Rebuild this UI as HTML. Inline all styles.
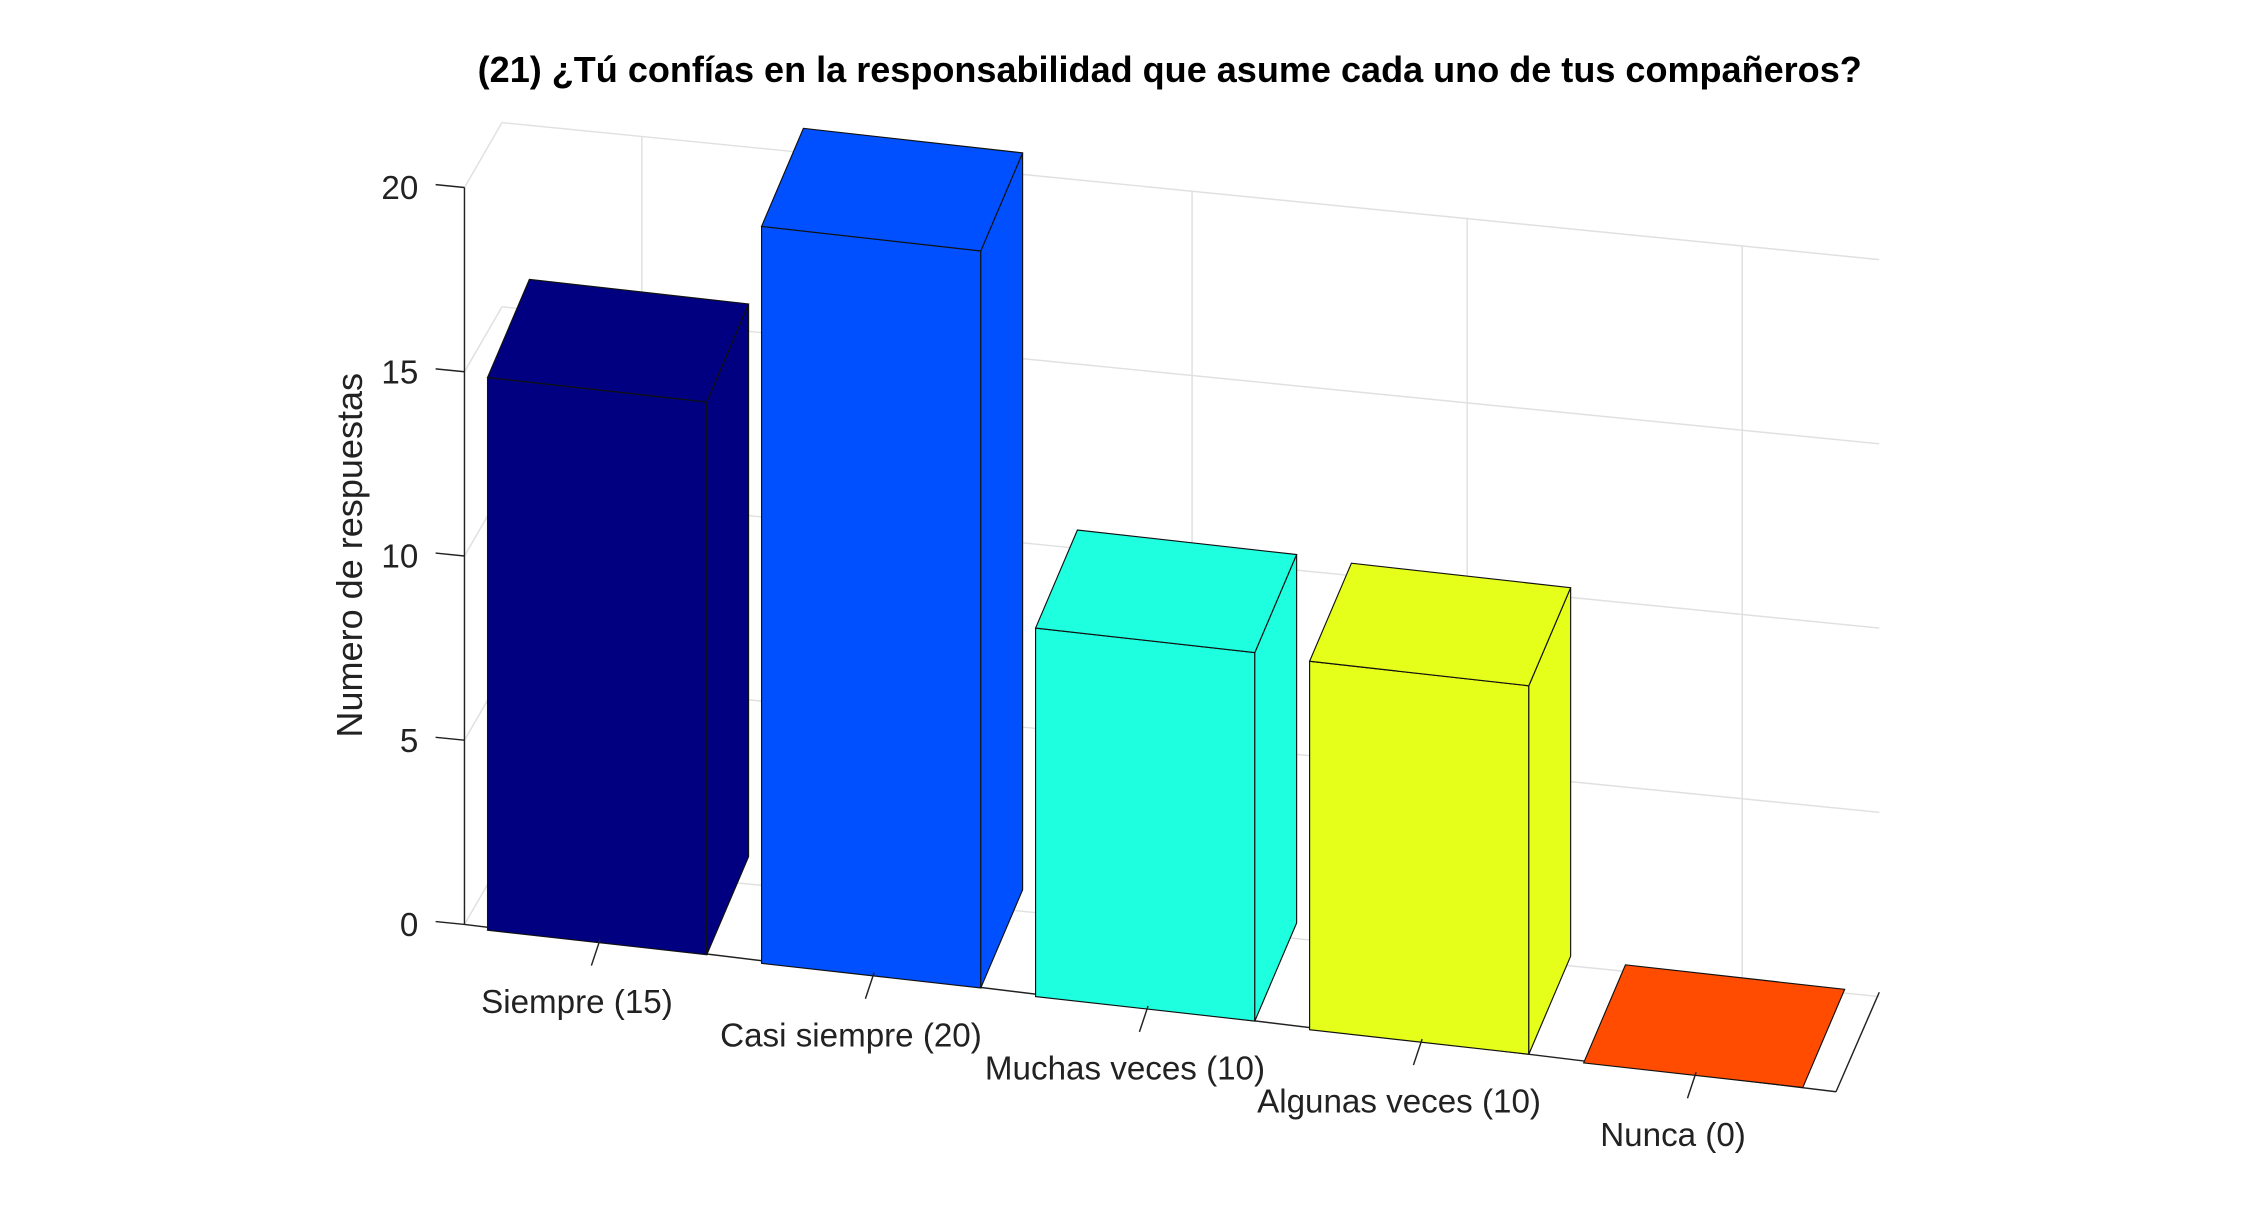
<!DOCTYPE html>
<html><head><meta charset="utf-8"><style>
html,body{margin:0;padding:0;background:#fff;}
svg{display:block;}
text{font-family:"Liberation Sans",Arial,sans-serif;}
</style></head><body>
<svg id="chart" width="2250" height="1223" viewBox="0 0 1560 848" xmlns="http://www.w3.org/2000/svg">
<rect width="1560" height="848" fill="#fff"/>
<text x="811" y="57" text-anchor="middle" font-size="25" font-weight="bold" fill="#000">(21) ¿Tú confías en la responsabilidad que asume cada uno de tus compañeros?</text>
<text transform="translate(251,385) rotate(-90)" text-anchor="middle" font-size="25" fill="#222">Numero de respuestas</text>
<g id="grid"></g><g id="axes"></g><g id="bars"></g><g id="xlabels"></g>
</svg>
<script>
const categories = ["Siempre (15)","Casi siempre (20)","Muchas veces (10)","Algunas veces (10)","Nunca (0)"];
const values = [15,20,10,10,0];
const colors = ["#000080","#0050ff","#1effe0","#e5ff1a","#ff4c00"];
const yTicks = [0,5,10,15,20];
const NS="http://www.w3.org/2000/svg";
function mk(tag,attrs,parent){const e=document.createElementNS(NS,tag);for(const k in attrs)e.setAttribute(k,attrs[k]);parent.appendChild(e);return e;}
const pxPerUnit = 127.75/5;
function yFront(v){return 641 - v*pxPerUnit;}
const grid=document.getElementById('grid'), axes=document.getElementById('axes'), bars=document.getElementById('bars'), xl=document.getElementById('xlabels');
yTicks.forEach(t=>{
  const ly=85+(20-t)*pxPerUnit, ry=180+(20-t)*pxPerUnit;
  const l=mk('line',{x1:348,y1:ly,x2:1303,y2:ry,stroke:"#e0e0e0","stroke-width":1},grid);
  
  
  const w=mk('line',{x1:322,y1:yFront(t),x2:348,y2:ly,stroke:"#e0e0e0","stroke-width":1},grid);
  
  
  const tk=mk('line',{x1:302,y1:yFront(t)-2,x2:322,y2:yFront(t),stroke:"#222","stroke-width":1},axes);
  
  
  const tl=mk('text',{x:290,y:yFront(t)+8,"text-anchor":"end","font-size":23,fill:"#222"},axes);
  tl.textContent=t;
  
  
});
categories.forEach((c,i)=>{
  const gx=445+i*190.75;
  const gy1=85+(gx-348)*0.0995, gy2=596+(gx-348)*0.096;
  const v=mk('line',{x1:gx,y1:gy1,x2:gx,y2:gy2,stroke:"#e0e0e0","stroke-width":1},grid);
  
  
});
let a=mk('line',{x1:322,y1:130,x2:322,y2:641,stroke:"#222","stroke-width":1},axes);


a=mk('line',{x1:322,y1:641,x2:1273,y2:757,stroke:"#222","stroke-width":1},axes);


a=mk('line',{x1:1273,y1:757,x2:1303,y2:688,stroke:"#222","stroke-width":1},axes);


const dX=29, dY=-68, bw=152, bs=17;
categories.forEach((c,i)=>{
  const x0=338+i*190, y0=645+i*23;
  const h=values[i]*pxPerUnit;
  const fl=[x0,y0-h], fr=[x0+bw,y0+bs-h], brb=[x0+bw,y0+bs];
  const g=mk('g',{},bars);
  
  
  const col=colors[i];
  const pt=a=>a.join(',');
  if(h>0){
    mk('polygon',{points:[pt(fl),pt(fr),pt(brb),pt([x0,y0])].join(' '),fill:col,stroke:"#111","stroke-width":0.8},g);
    mk('polygon',{points:[pt(fr),pt([fr[0]+dX,fr[1]+dY]),pt([brb[0]+dX,brb[1]+dY]),pt(brb)].join(' '),fill:col,stroke:"#111","stroke-width":0.8},g);
  }
  mk('polygon',{points:[pt(fl),pt([fl[0]+dX,fl[1]+dY]),pt([fr[0]+dX,fr[1]+dY]),pt(fr)].join(' '),fill:col,stroke:"#111","stroke-width":0.8},g);
  const cx=x0+bw/2-2, cy=y0+bs/2+12;
  const tk=mk('line',{x1:cx+4,y1:cy-14,x2:cx-2,y2:cy+4,stroke:"#222","stroke-width":1},xl);
  
  
  const t=mk('text',{x:cx-12,y:cy+37,"text-anchor":"middle","font-size":23,fill:"#222"},xl);
  t.textContent=c;
  
  
});
</script>
</body></html>
